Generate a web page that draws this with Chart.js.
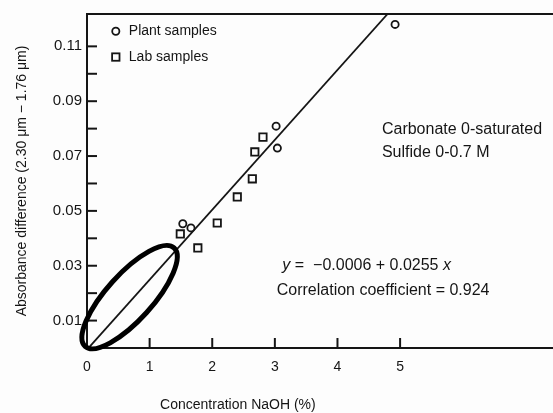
<!DOCTYPE html>
<html>
<head>
<meta charset="utf-8">
<script src="https://cdn.jsdelivr.net/npm/chart.js@4.4.1/dist/chart.umd.min.js"></script>
<style>
  body { margin: 0; background: #fdfdfd; }
  canvas { display: block; }
</style>
</head>
<body>
<canvas id="grafico" width="553" height="413"></canvas>
<script>
// values
const plantX = [4.92, 3.02, 3.04, 1.53, 1.66];
const plantY = [0.118, 0.0809, 0.0729, 0.0453, 0.0438];
const labX = [2.81, 2.68, 2.64, 2.40, 2.08, 1.49, 1.77];
const labY = [0.0769, 0.0715, 0.0617, 0.0551, 0.0456, 0.0416, 0.0365];
const fitX = [0, 4.8];
const fitY = [-0.0006, 0.1218];
const xTickLabels = [0, 1, 2, 3, 4, 5];
const yTickLabels = [0.01, 0.03, 0.05, 0.07, 0.09, 0.11];

const ink = '#151515';
const fontFam = "'Liberation Sans', Arial, sans-serif";

function pts(xs, ys) {
  return xs.map(function(x, i) { return { x: x, y: ys[i] }; });
}
function hasTick(list, v) {
  return list.some(function(t) { return Math.abs(t - v) < 1e-6; });
}

// inward ticks, top frame line, ellipse, legend and notes
const extras = {
  id: 'extras',
  beforeDraw: function(chart) {
    const ctx = chart.ctx;
    ctx.save();
    ctx.fillStyle = '#fdfdfd';
    ctx.fillRect(0, 0, chart.width, chart.height);
    ctx.restore();
  },
  afterDraw: function(chart) {
    const ctx = chart.ctx;
    const xs = chart.scales.x, ys = chart.scales.y;
    const area = chart.chartArea;
    ctx.save();
    ctx.strokeStyle = ink;
    ctx.lineWidth = 2;

    // top frame, bottom axis continued to the edge
    ctx.beginPath();
    ctx.moveTo(area.left - 1, area.top);
    ctx.lineTo(chart.width, area.top);
    ctx.moveTo(area.left - 1, area.bottom);
    ctx.lineTo(chart.width, area.bottom);
    ctx.stroke();

    // tick marks pointing into the plot
    ys.ticks.forEach(function(t) {
      if (t.value < 0.005 || t.value > 0.115) return;
      const py = ys.getPixelForValue(t.value);
      ctx.beginPath();
      ctx.moveTo(area.left - 1, py);
      ctx.lineTo(area.left + 10, py);
      ctx.stroke();
    });
    xTickLabels.forEach(function(v) {
      if (v === 0) return;
      const px = xs.getPixelForValue(v);
      ctx.beginPath();
      ctx.moveTo(px, area.bottom);
      ctx.lineTo(px, area.bottom - 10);
      ctx.stroke();
    });

    // hand drawn ellipse around the low end of the fit
    const p1 = { x: xs.getPixelForValue(-0.03), y: ys.getPixelForValue(0.0006) };
    const p2 = { x: xs.getPixelForValue(1.39), y: ys.getPixelForValue(0.0365) };
    const cx = (p1.x + p2.x) / 2, cy = (p1.y + p2.y) / 2;
    const a = Math.hypot(p2.x - p1.x, p2.y - p1.y) / 2;
    const rot = Math.atan2(p2.y - p1.y, p2.x - p1.x);
    ctx.lineWidth = 5;
    ctx.strokeStyle = '#000';
    ctx.beginPath();
    ctx.ellipse(cx, cy, a, 23, rot, 0, Math.PI * 2);
    ctx.stroke();

    // legend
    ctx.fillStyle = ink;
    ctx.strokeStyle = ink;
    ctx.lineWidth = 1.8;
    ctx.font = '14px ' + fontFam;
    ctx.textBaseline = 'middle';
    ctx.textAlign = 'left';
    const lx = xs.getPixelForValue(0.46);
    const row1 = ys.getPixelForValue(0.1155);
    const row2 = ys.getPixelForValue(0.1061);
    ctx.beginPath();
    ctx.arc(lx, row1, 3.6, 0, Math.PI * 2);
    ctx.stroke();
    ctx.strokeRect(lx - 3.7, row2 - 3.7, 7.4, 7.4);
    ctx.fillText(chart.data.datasets[0].label, lx + 13, row1);
    ctx.fillText(chart.data.datasets[1].label, lx + 13, row2);

    // notes
    ctx.font = '16px ' + fontFam;
    ctx.fillText('Carbonate 0-saturated', xs.getPixelForValue(4.71), ys.getPixelForValue(0.0798));
    ctx.fillText('Sulfide 0-0.7 M', xs.getPixelForValue(4.71), ys.getPixelForValue(0.0711));

    let ex = xs.getPixelForValue(3.12);
    const ey = ys.getPixelForValue(0.0300);
    ctx.font = 'italic 16px ' + fontFam;
    ctx.fillText('y', ex, ey);
    ex += ctx.measureText('y').width;
    ctx.font = '16px ' + fontFam;
    const mid = ' =  \u22120.0006 + 0.0255 ';
    ctx.fillText(mid, ex, ey);
    ex += ctx.measureText(mid).width;
    ctx.font = 'italic 16px ' + fontFam;
    ctx.fillText('x', ex, ey);

    ctx.font = '16px ' + fontFam;
    ctx.fillText('Correlation coefficient = 0.924', xs.getPixelForValue(3.03), ys.getPixelForValue(0.0209));

    // x axis title
    ctx.font = '14px ' + fontFam;
    ctx.textAlign = 'center';
    ctx.fillText('Concentration NaOH (%)', xs.getPixelForValue(2.41), chart.height - 8);
    ctx.restore();
  }
};

const ctx = document.querySelector('#grafico');
const chart = new Chart(ctx, {
  type: 'scatter',
  data: {
    datasets: [{
      label: 'Plant samples',
      data: pts(plantX, plantY),
      pointStyle: 'circle',
      pointRadius: 3.6,
      borderWidth: 1.8,
      borderColor: ink,
      backgroundColor: 'rgba(0,0,0,0)'
    }, {
      label: 'Lab samples',
      data: pts(labX, labY),
      pointStyle: 'rect',
      pointRadius: 5.2,
      borderWidth: 1.8,
      borderColor: ink,
      backgroundColor: 'rgba(0,0,0,0)'
    }, {
      label: 'fit',
      type: 'line',
      data: pts(fitX, fitY),
      borderColor: ink,
      borderWidth: 1.8,
      pointRadius: 0,
      fill: false,
      clip: 0
    }]
  },
  options: {
    responsive: false,
    animation: false,
    layout: { padding: { top: 12, right: 0, bottom: 0, left: 0 } },
    plugins: {
      legend: { display: false },
      tooltip: { enabled: false }
    },
    scales: {
      x: {
        type: 'linear',
        min: 0,
        max: 7.33,
        grid: { display: false, drawTicks: false },
        border: { display: true, color: ink, width: 2 },
        ticks: {
          stepSize: 1,
          includeBounds: false,
          padding: 11,
          color: ink,
          font: { family: fontFam, size: 14 },
          maxRotation: 0,
          autoSkip: false,
          callback: function(v) { return hasTick(xTickLabels, v) ? String(v) : ''; }
        },
        afterFit: function(scale) {
          scale.height = 65;
        }
      },
      y: {
        min: 0,
        max: 0.1218,
        grid: { display: false, drawTicks: false },
        border: { display: true, color: ink, width: 2 },
        title: {
          display: true,
          text: 'Absorbance difference (2.30 \u03bcm \u2212 1.76 \u03bcm)',
          color: ink,
          font: { family: fontFam, size: 14 },
          padding: { top: 14, bottom: 0 }
        },
        ticks: {
          stepSize: 0.01,
          includeBounds: false,
          padding: 5,
          color: ink,
          font: { family: fontFam, size: 15 },
          autoSkip: false,
          callback: function(v) { return hasTick(yTickLabels, v) ? v.toFixed(2) : ''; }
        },
        afterFit: function(scale) {
          scale.width = 87;
        }
      }
    }
  },
  plugins: [extras]
});
</script>
</body>
</html>
